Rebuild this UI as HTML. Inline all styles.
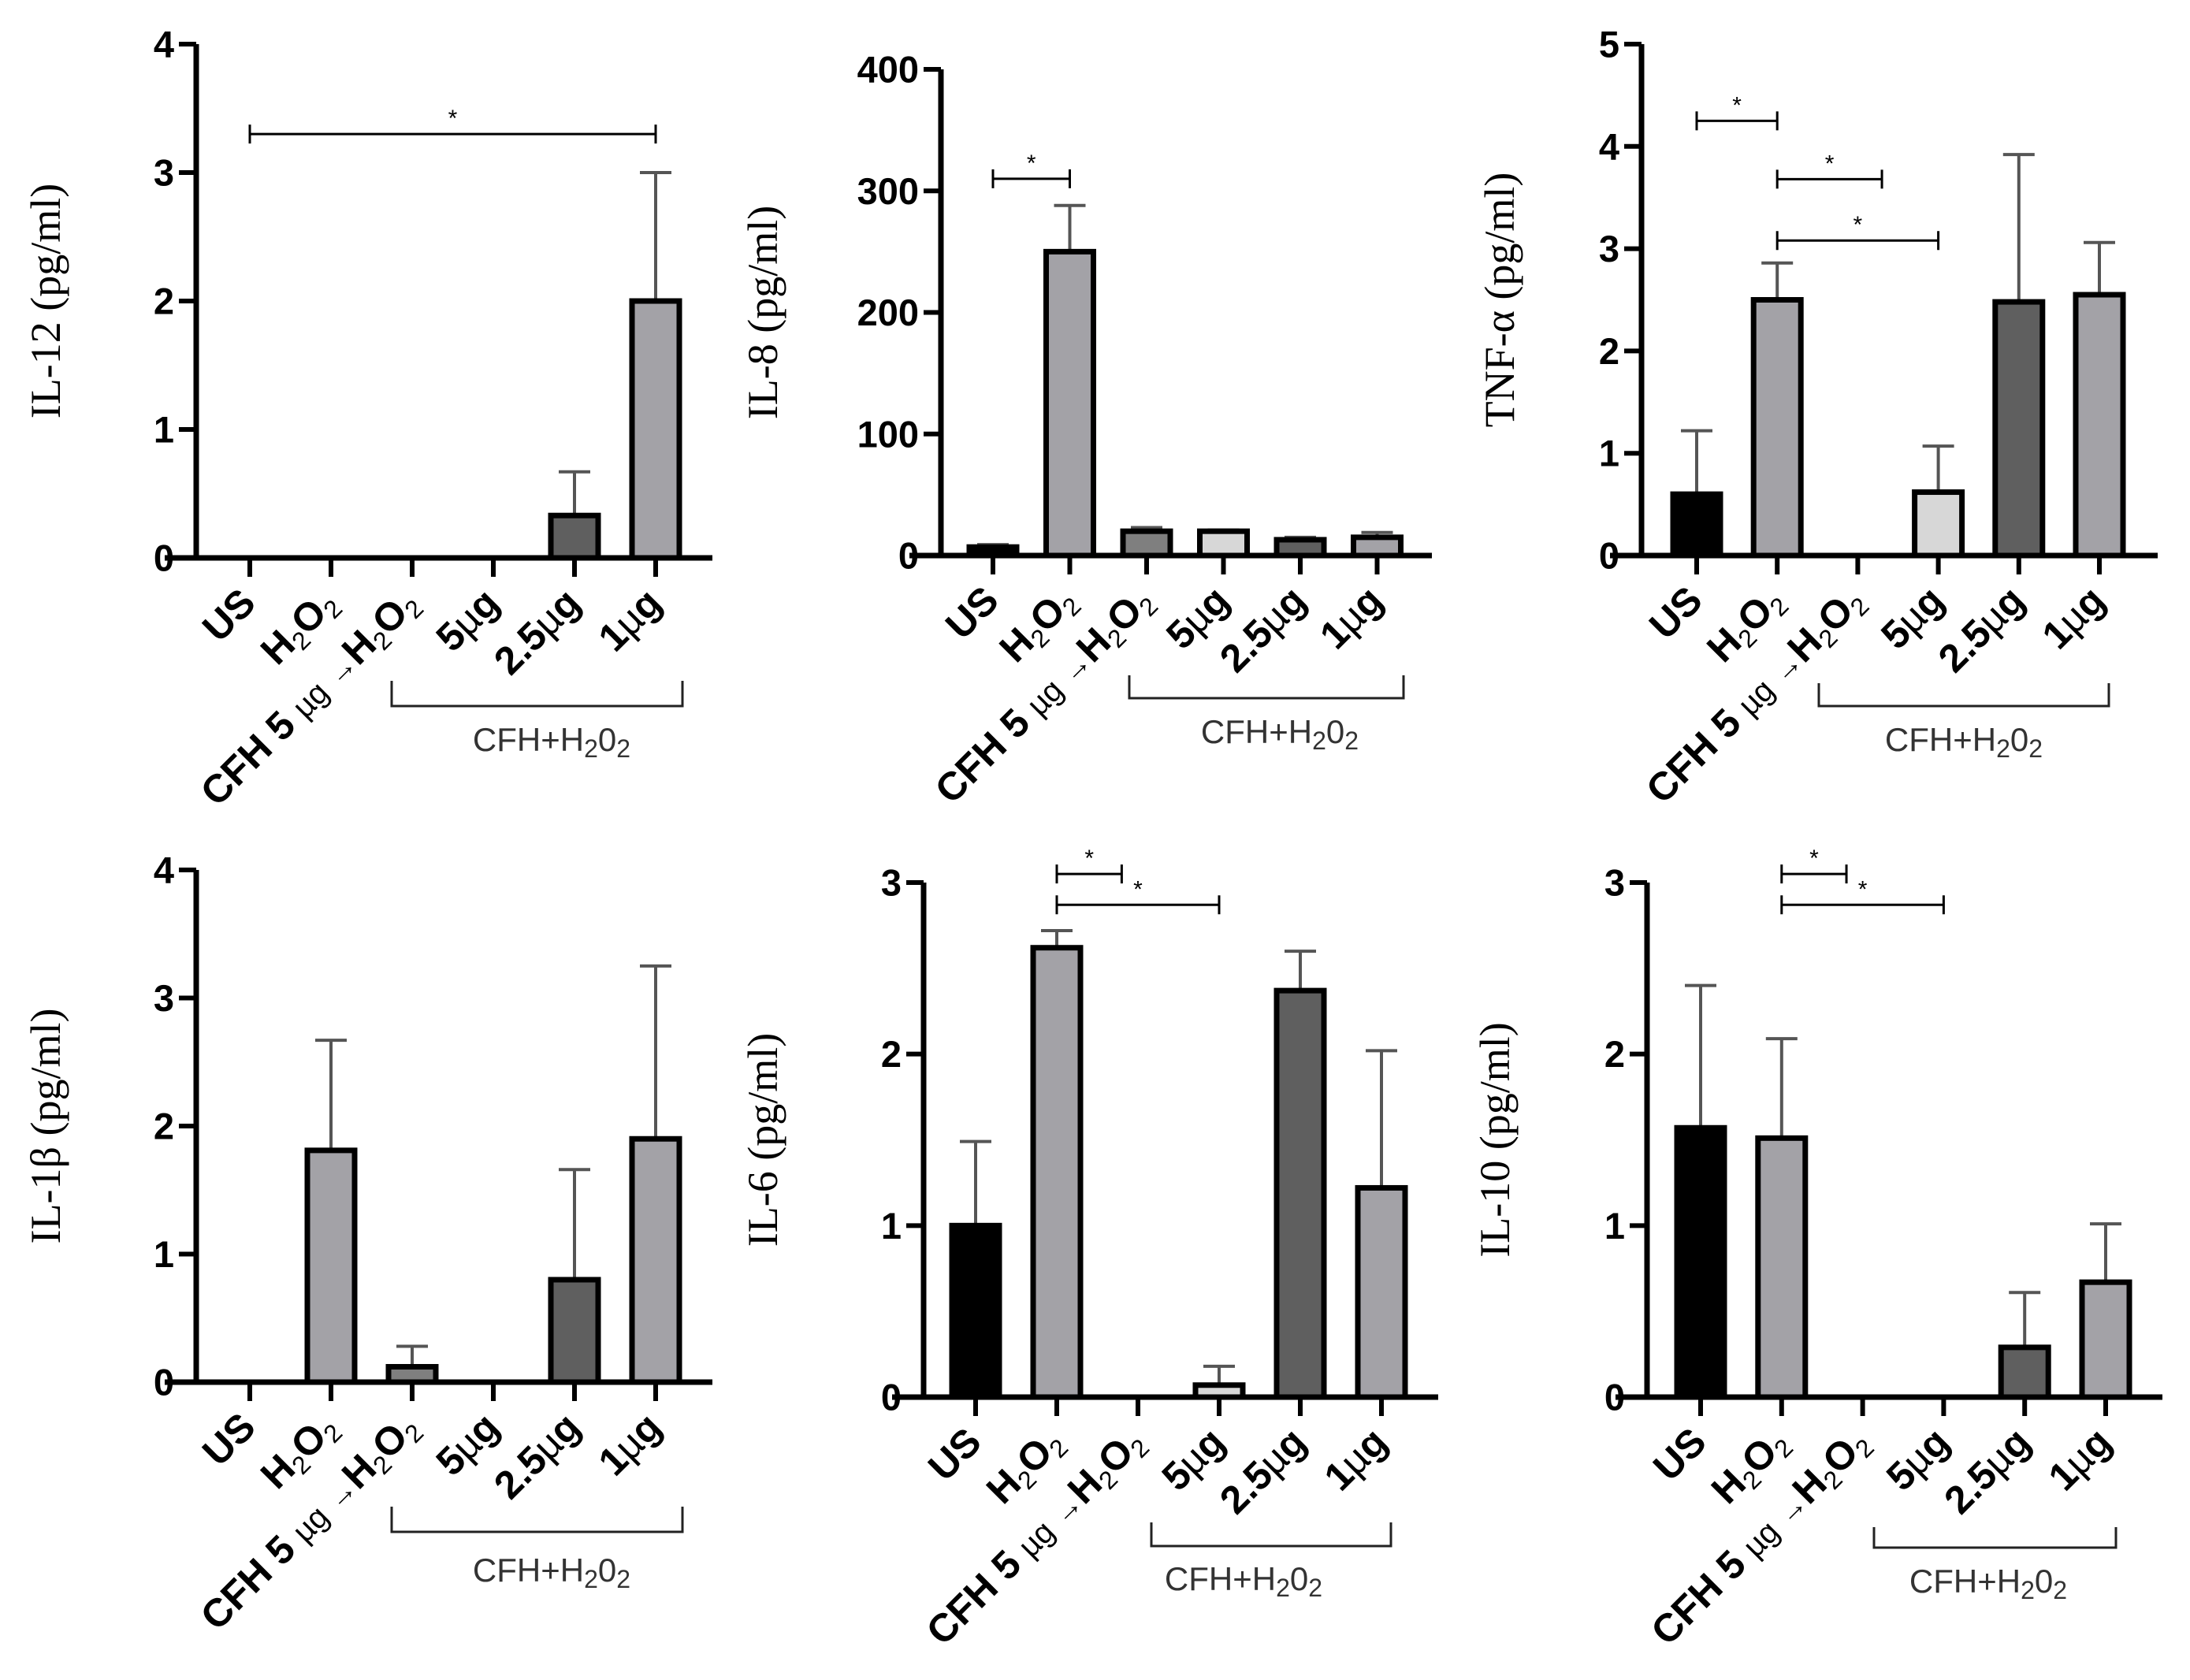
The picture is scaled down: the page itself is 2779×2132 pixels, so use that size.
<!DOCTYPE html>
<html><head><meta charset="utf-8"><style>
html,body{margin:0;padding:0;background:#fff;}
svg{display:block;}
</style></head><body>
<svg id="fig" xmlns="http://www.w3.org/2000/svg" width="2779" height="2132" viewBox="0 0 2779 2132"></svg>
<script>
// ---- data ----
const categories = ["US","H2O2","CFH5-H2O2","5µg","2.5µg","1µg"];
const il12Values = [0,0,0,0,0.33,2.0];
const il12Err    = [0,0,0,0,0.67,3.0];
const il12Ticks  = [0,1,2,3,4];
const il8Values  = [7,250,20,20,13,15];
const il8Err     = [9,288,23,21,15,19];
const il8Ticks   = [0,100,200,300,400];
const tnfValues  = [0.6,2.5,0,0.62,2.48,2.55];
const tnfErr     = [1.22,2.86,0,1.07,3.92,3.06];
const tnfTicks   = [0,1,2,3,4,5];
const il1bValues = [0,1.81,0.12,0,0.8,1.9];
const il1bErr    = [0,2.67,0.28,0,1.66,3.25];
const il1bTicks  = [0,1,2,3,4];
const il6Values  = [1.0,2.62,0,0.07,2.37,1.22];
const il6Err     = [1.49,2.72,0,0.18,2.6,2.02];
const il6Ticks   = [0,1,2,3];
const il10Values = [1.57,1.51,0,0,0.29,0.67];
const il10Err    = [2.4,2.09,0,0,0.61,1.01];
const il10Ticks  = [0,1,2,3];
const il12Sig = [[0,5,3.3]];
const il8Sig  = [[0,1,310]];
const tnfSig  = [[0,1,4.25],[1,2.3,3.68],[1,3,3.08]];
const il1bSig = [];
const il6Sig  = [[1,1.8,3.05],[1,3,2.87]];
const il10Sig = [[1,1.8,3.05],[1,3,2.87]];

const fills = ["#000000","#a3a2a7","#7f7f7f","#d7d7d7","#5f5f5f","#a3a2a7"];
const NS = "http://www.w3.org/2000/svg";
const svg = document.getElementById("fig");

function mk(tag, attrs, parent){
  const e = document.createElementNS(NS, tag);
  for (const k in attrs) e.setAttribute(k, attrs[k]);
  (parent||svg).appendChild(e);
  return e;
}

const panels = [
 {id:"il12", title:"IL-12 (pg/ml)", vals:il12Values, err:il12Err, ticks:il12Ticks, sig:il12Sig,
  ax:249, y0:708, yTop:56, xFirst:317, step:103, xEnd:904, br:[497,866,864,896], lab:[700,953], tx:58},
 {id:"il8", title:"IL-8 (pg/ml)", vals:il8Values, err:il8Err, ticks:il8Ticks, sig:il8Sig,
  ax:1194, y0:705, yTop:88, xFirst:1260, step:97.5, xEnd:1817, br:[1433,1781,857,886], lab:[1624,943], tx:968},
 {id:"tnf", title:"TNF-α (pg/ml)", vals:tnfValues, err:tnfErr, ticks:tnfTicks, sig:tnfSig,
  ax:2083, y0:705, yTop:56, xFirst:2153, step:102.2, xEnd:2738, br:[2308,2676,867,896], lab:[2492,953], tx:1903},
 {id:"il1b", title:"IL-1β (pg/ml)", vals:il1bValues, err:il1bErr, ticks:il1bTicks, sig:il1bSig,
  ax:249, y0:1754, yTop:1104, xFirst:317, step:103, xEnd:904, br:[497,866,1912,1944], lab:[700,2007], tx:58},
 {id:"il6", title:"IL-6 (pg/ml)", vals:il6Values, err:il6Err, ticks:il6Ticks, sig:il6Sig,
  ax:1172, y0:1773, yTop:1120, xFirst:1238, step:103, xEnd:1825, br:[1461,1765,1932,1962], lab:[1578,2018], tx:968},
 {id:"il10", title:"IL-10 (pg/ml)", vals:il10Values, err:il10Err, ticks:il10Ticks, sig:il10Sig,
  ax:2090, y0:1773, yTop:1120, xFirst:2158, step:102.8, xEnd:2744, br:[2378,2685,1938,1964], lab:[2523,2021], tx:1897}
];

const H2O2 = 'H<tspan font-size="32" dy="9" font-weight="normal">2</tspan><tspan dy="-9">O</tspan><tspan font-size="32" dy="9" font-weight="normal">2</tspan>';

panels.forEach(p => {
  const g = mk("g", {});
  
  
  const yMax = p.ticks[p.ticks.length-1];
  const ys = v => p.y0 - (v / yMax) * (p.y0 - p.yTop);
  const xs = i => p.xFirst + i * p.step;

  const t = mk("text", {x:p.tx, y:(p.y0+p.yTop)/2, transform:`rotate(-90 ${p.tx} ${(p.y0+p.yTop)/2})`,
    "text-anchor":"middle", "dominant-baseline":"central", "font-family":"Liberation Serif, serif", "font-size":54, fill:"#000"}, g);
  t.textContent = p.title;
  
  

  p.vals.forEach((v,i) => {
    const cx = xs(i);
    if (p.err[i] > v) {
      const el = mk("path", {d:`M${cx} ${ys(v)} V${ys(p.err[i])} M${cx-20} ${ys(p.err[i])} H${cx+20}`, stroke:"#555", "stroke-width":4, fill:"none"}, g);
      
      
    }
    if (v > 0) {
      const top = ys(v), w = 60;
      const r = mk("rect", {x:cx-w/2, y:top, width:w, height:Math.max(p.y0-top,0.5), fill:fills[i], stroke:"#000", "stroke-width":7}, g);
      
      
    }
  });

  const axis = mk("path", {d:`M${p.ax} ${p.yTop} V${p.y0} M${p.ax-40} ${p.y0} H${p.xEnd}`, stroke:"#000", "stroke-width":7, fill:"none"}, g);
  
  
  p.ticks.forEach(tv => {
    const y = ys(tv);
    mk("line", {x1:p.ax-22, x2:p.ax, y1:y, y2:y, stroke:"#000", "stroke-width":6}, g);
    const lt = mk("text", {x:p.ax-28, y:y, "text-anchor":"end", "dominant-baseline":"central",
      "font-family":"Liberation Sans, sans-serif", "font-weight":"bold", "font-size":47, fill:"#000"}, g);
    lt.textContent = tv;
    
    
  });
  categories.forEach((c,i) => {
    const x = xs(i);
    mk("line", {x1:x, x2:x, y1:p.y0, y2:p.y0+24, stroke:"#000", "stroke-width":6}, g);
    const lx = x + 10, ly = p.y0 + 60;
    const tl = mk("text", {x:lx, y:ly, transform:`rotate(-45 ${lx} ${ly})`, "text-anchor":"end",
      "font-family":"Liberation Sans, sans-serif", "font-weight":"bold", "font-size":50, fill:"#000"}, g);
    
    
    if (c === "H2O2") {
      tl.innerHTML = H2O2;
    } else if (c === "CFH5-H2O2") {
      tl.innerHTML = 'CFH 5 <tspan font-weight="normal" font-size="40">µg</tspan> <tspan font-weight="normal" font-size="36">→</tspan>' + H2O2;
    } else {
      tl.innerHTML = c.replace("µg", '<tspan font-weight="normal">µ</tspan>g');
    }
  });

  p.sig.forEach(s => {
    const x1 = xs(s[0]), x2 = xs(s[1]), y = ys(s[2]);
    const sp = mk("path", {d:`M${x1} ${y-12} V${y+12} M${x1} ${y} H${x2} M${x2} ${y-12} V${y+12}`, stroke:"#000", "stroke-width":3, fill:"none"}, g);
    
    
    const st = mk("text", {x:(x1+x2)/2, y:y-10, "text-anchor":"middle", "font-family":"Liberation Sans, sans-serif", "font-size":30, fill:"#000"}, g);
    st.textContent = "*";
    
    
  });

  const b = p.br;
  const bp = mk("path", {d:`M${b[0]} ${b[2]} V${b[3]} H${b[1]} V${b[2]}`, stroke:"#222", "stroke-width":3, fill:"none"}, g);
  
  
  const gl = mk("text", {x:p.lab[0], y:p.lab[1], "text-anchor":"middle", "font-family":"Liberation Sans, sans-serif", "font-size":42, fill:"#333"}, g);
  gl.innerHTML = 'CFH+H<tspan font-size="32" dy="8">2</tspan><tspan dy="-8">0</tspan><tspan font-size="32" dy="8">2</tspan>';
  
  
});
</script>
</body></html>
